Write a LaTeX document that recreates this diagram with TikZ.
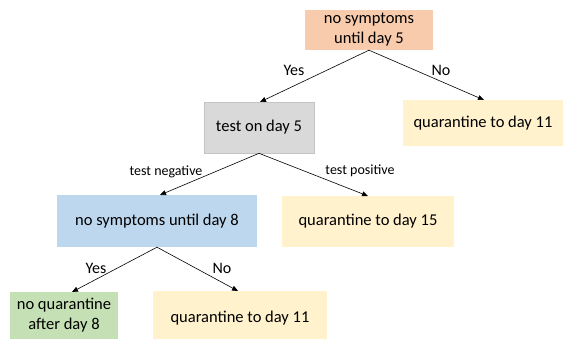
\documentclass[tikz,border=0pt]{standalone}
\usepackage{fontspec}
\setmainfont{Carlito}
\usetikzlibrary{arrows.meta}
\definecolor{corange}{HTML}{F8CBAD}
\definecolor{cgray}{HTML}{D9D9D9}
\definecolor{cgrayb}{HTML}{C4C4C4}
\definecolor{cyellow}{HTML}{FFF2CC}
\definecolor{cblue}{HTML}{BDD7EE}
\definecolor{cgreen}{HTML}{C5E0B4}
\tikzset{
  box/.style={inner sep=0pt, align=center, font=\fontsize{16.5}{20}\selectfont},
  conn/.style={draw=black, line width=0.6pt, -{Triangle[length=6pt,width=5pt]}},
  lab/.style={font=\fontsize{16}{18}\selectfont, inner sep=0pt},
  slab/.style={font=\fontsize{14}{16}\selectfont, inner sep=0pt}
}
\begin{document}
\begin{tikzpicture}[x=1pt,y=-1pt]
\useasboundingbox (0,0) rectangle (563,339);
\node[box, fill=corange, minimum width=128pt, minimum height=40pt] (top) at (369,30) {no symptoms\\until day 5};
\node[box, fill=cgray, draw=cgrayb, line width=0.6pt, minimum width=110pt, minimum height=51pt] (test) at (259,127.5) {test on day 5};
\node[box, fill=cyellow, minimum width=160pt, minimum height=46pt] (qa) at (483,123) {quarantine to day 11};
\node[box, fill=cblue, minimum width=200pt, minimum height=52pt] (sym) at (157,221) {no symptoms until day 8};
\node[box, fill=cyellow, minimum width=172pt, minimum height=51pt] (qb) at (368,221.5) {quarantine to day 15};
\node[box, fill=cgreen, minimum width=108pt, minimum height=47pt] (noq) at (64,315.5) {no quarantine\\after day 8};
\node[box, fill=cyellow, minimum width=174pt, minimum height=54pt] (qc) at (240,318) {quarantine to day 11};
\coordinate (tipa) at (260,102);
\coordinate (tipb) at (484,100);
\coordinate (tipc) at (160,195);
\coordinate (tipd) at (368,196);
\coordinate (tipe) at (72,292);
\coordinate (tipf) at (238,291);
\draw[conn] (top.south) -- (tipa);
\draw[conn] (top.south) -- (tipb);
\draw[conn] (test.south) -- (tipc);
\draw[conn] (test.south) -- (tipd);
\draw[conn] (sym.south) -- (tipe);
\draw[conn] (sym.south) -- (tipf);
\node[lab] (l1) at (294,70) {Yes};
\node[lab] (l2) at (441,70) {No};
\node[slab] (l3) at (166,172) {test negative};
\node[slab] (l4) at (360,171) {test positive};
\node[lab] (l5) at (96,268) {Yes};
\node[lab] (l6) at (222,268) {No};
\end{tikzpicture}
\end{document}
